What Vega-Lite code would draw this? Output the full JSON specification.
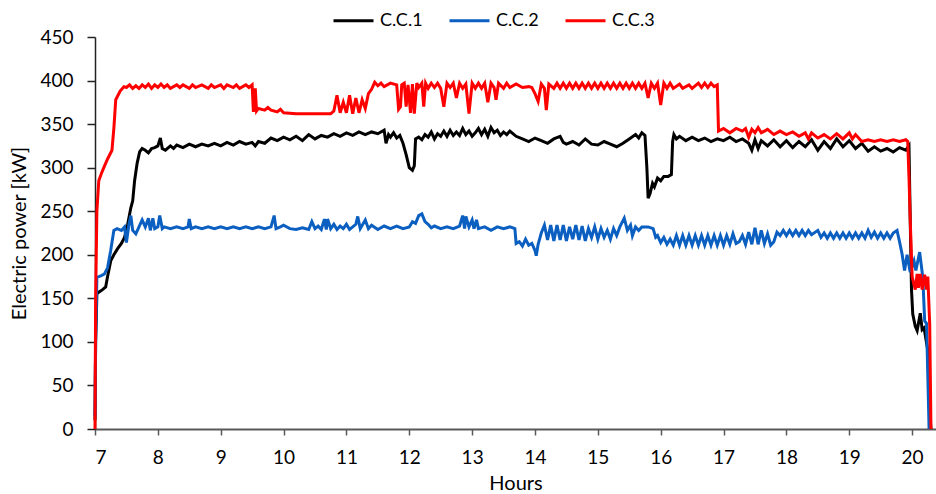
{
"$schema": "https://vega.github.io/schema/vega-lite/v6.json",
"width": 841,
"height": 392,
"autosize": {"type": "none"},
"padding": {"left": 95, "top": 37, "right": 0, "bottom": 65},
"config": {"view": {"stroke": null}, "font": "Lato"},
"datasets": {
"cc1": [
{"h":7.0,"v":10},{"h":7.01,"v":100},{"h":7.03,"v":155},{"h":7.06,"v":157},{"h":7.12,"v":160},{"h":7.17,"v":163},{"h":7.2,"v":175},{"h":7.25,"v":193},{"h":7.3,"v":200},{"h":7.36,"v":207},{"h":7.42,"v":213},{"h":7.47,"v":220},{"h":7.52,"v":235},{"h":7.57,"v":254},{"h":7.6,"v":262},{"h":7.63,"v":285},{"h":7.67,"v":305},{"h":7.71,"v":318},{"h":7.75,"v":322},{"h":7.8,"v":320},{"h":7.85,"v":317},{"h":7.9,"v":322},{"h":7.95,"v":323},{"h":8.0,"v":325},{"h":8.04,"v":334},{"h":8.07,"v":322},{"h":8.12,"v":320},{"h":8.2,"v":325},{"h":8.25,"v":322},{"h":8.3,"v":326},{"h":8.4,"v":323},{"h":8.5,"v":327},{"h":8.6,"v":324},{"h":8.7,"v":327},{"h":8.8,"v":325},{"h":8.9,"v":328},{"h":9.0,"v":325},{"h":9.1,"v":329},{"h":9.2,"v":326},{"h":9.3,"v":330},{"h":9.4,"v":327},{"h":9.5,"v":329},{"h":9.55,"v":325},{"h":9.6,"v":330},{"h":9.7,"v":328},{"h":9.8,"v":334},{"h":9.9,"v":331},{"h":10.0,"v":335},{"h":10.1,"v":332},{"h":10.2,"v":336},{"h":10.3,"v":331},{"h":10.4,"v":338},{"h":10.5,"v":333},{"h":10.6,"v":337},{"h":10.7,"v":335},{"h":10.8,"v":339},{"h":10.9,"v":336},{"h":11.0,"v":340},{"h":11.1,"v":337},{"h":11.2,"v":341},{"h":11.3,"v":338},{"h":11.4,"v":341},{"h":11.5,"v":339},{"h":11.6,"v":343},{"h":11.63,"v":328},{"h":11.67,"v":338},{"h":11.7,"v":335},{"h":11.75,"v":340},{"h":11.8,"v":334},{"h":11.85,"v":337},{"h":11.9,"v":328},{"h":11.95,"v":315},{"h":12.0,"v":300},{"h":12.05,"v":297},{"h":12.08,"v":302},{"h":12.1,"v":333},{"h":12.15,"v":335},{"h":12.2,"v":332},{"h":12.25,"v":338},{"h":12.3,"v":335},{"h":12.35,"v":341},{"h":12.4,"v":333},{"h":12.45,"v":339},{"h":12.5,"v":336},{"h":12.55,"v":342},{"h":12.6,"v":336},{"h":12.65,"v":343},{"h":12.7,"v":337},{"h":12.75,"v":341},{"h":12.8,"v":337},{"h":12.85,"v":345},{"h":12.9,"v":338},{"h":12.95,"v":342},{"h":13.0,"v":336},{"h":13.05,"v":340},{"h":13.1,"v":345},{"h":13.15,"v":338},{"h":13.2,"v":344},{"h":13.25,"v":336},{"h":13.3,"v":346},{"h":13.35,"v":340},{"h":13.4,"v":343},{"h":13.45,"v":337},{"h":13.5,"v":341},{"h":13.55,"v":338},{"h":13.6,"v":342},{"h":13.7,"v":336},{"h":13.8,"v":333},{"h":13.9,"v":330},{"h":14.0,"v":334},{"h":14.1,"v":331},{"h":14.2,"v":328},{"h":14.3,"v":333},{"h":14.4,"v":336},{"h":14.45,"v":329},{"h":14.5,"v":327},{"h":14.6,"v":330},{"h":14.7,"v":326},{"h":14.8,"v":333},{"h":14.9,"v":327},{"h":15.0,"v":326},{"h":15.1,"v":330},{"h":15.2,"v":327},{"h":15.3,"v":324},{"h":15.4,"v":328},{"h":15.5,"v":333},{"h":15.6,"v":338},{"h":15.65,"v":334},{"h":15.7,"v":340},{"h":15.75,"v":337},{"h":15.78,"v":300},{"h":15.8,"v":265},{"h":15.83,"v":270},{"h":15.87,"v":282},{"h":15.9,"v":278},{"h":15.95,"v":288},{"h":16.0,"v":285},{"h":16.05,"v":290},{"h":16.12,"v":290},{"h":16.17,"v":292},{"h":16.19,"v":330},{"h":16.21,"v":338},{"h":16.25,"v":333},{"h":16.3,"v":336},{"h":16.4,"v":331},{"h":16.5,"v":335},{"h":16.6,"v":331},{"h":16.7,"v":334},{"h":16.8,"v":330},{"h":16.9,"v":333},{"h":17.0,"v":331},{"h":17.1,"v":335},{"h":17.2,"v":330},{"h":17.3,"v":333},{"h":17.4,"v":328},{"h":17.45,"v":320},{"h":17.5,"v":332},{"h":17.55,"v":322},{"h":17.6,"v":331},{"h":17.7,"v":325},{"h":17.8,"v":332},{"h":17.9,"v":324},{"h":18.0,"v":331},{"h":18.1,"v":323},{"h":18.2,"v":330},{"h":18.3,"v":324},{"h":18.4,"v":332},{"h":18.5,"v":320},{"h":18.6,"v":330},{"h":18.7,"v":322},{"h":18.8,"v":333},{"h":18.9,"v":324},{"h":19.0,"v":331},{"h":19.1,"v":322},{"h":19.2,"v":328},{"h":19.3,"v":319},{"h":19.4,"v":324},{"h":19.5,"v":319},{"h":19.6,"v":322},{"h":19.7,"v":318},{"h":19.8,"v":323},{"h":19.9,"v":320},{"h":19.95,"v":325},{"h":19.97,"v":240},{"h":19.99,"v":160},{"h":20.01,"v":132},{"h":20.05,"v":118},{"h":20.08,"v":113},{"h":20.13,"v":133},{"h":20.16,"v":114},{"h":20.19,"v":116},{"h":20.25,"v":90},{"h":20.28,"v":20},{"h":20.3,"v":0}
],
"cc2": [
{"h":7.0,"v":15},{"h":7.01,"v":100},{"h":7.03,"v":174},{"h":7.1,"v":176},{"h":7.15,"v":178},{"h":7.2,"v":185},{"h":7.25,"v":205},{"h":7.3,"v":228},{"h":7.35,"v":230},{"h":7.42,"v":228},{"h":7.47,"v":232},{"h":7.5,"v":214},{"h":7.54,"v":235},{"h":7.57,"v":245},{"h":7.6,"v":228},{"h":7.65,"v":224},{"h":7.7,"v":232},{"h":7.75,"v":240},{"h":7.8,"v":232},{"h":7.85,"v":242},{"h":7.88,"v":228},{"h":7.92,"v":242},{"h":7.95,"v":230},{"h":8.0,"v":232},{"h":8.03,"v":245},{"h":8.07,"v":230},{"h":8.1,"v":232},{"h":8.2,"v":230},{"h":8.3,"v":232},{"h":8.4,"v":230},{"h":8.48,"v":232},{"h":8.5,"v":241},{"h":8.53,"v":230},{"h":8.6,"v":232},{"h":8.7,"v":230},{"h":8.8,"v":232},{"h":8.9,"v":230},{"h":9.0,"v":232},{"h":9.1,"v":230},{"h":9.2,"v":232},{"h":9.3,"v":230},{"h":9.4,"v":232},{"h":9.5,"v":230},{"h":9.6,"v":232},{"h":9.7,"v":230},{"h":9.8,"v":232},{"h":9.85,"v":245},{"h":9.88,"v":230},{"h":9.95,"v":232},{"h":10.0,"v":234},{"h":10.1,"v":230},{"h":10.2,"v":229},{"h":10.3,"v":231},{"h":10.4,"v":229},{"h":10.45,"v":238},{"h":10.5,"v":230},{"h":10.55,"v":233},{"h":10.6,"v":229},{"h":10.65,"v":241},{"h":10.68,"v":229},{"h":10.7,"v":241},{"h":10.75,"v":230},{"h":10.8,"v":235},{"h":10.85,"v":229},{"h":10.9,"v":233},{"h":10.95,"v":230},{"h":11.0,"v":235},{"h":11.05,"v":229},{"h":11.15,"v":235},{"h":11.18,"v":244},{"h":11.22,"v":230},{"h":11.3,"v":240},{"h":11.35,"v":230},{"h":11.4,"v":234},{"h":11.5,"v":229},{"h":11.6,"v":233},{"h":11.7,"v":230},{"h":11.8,"v":233},{"h":11.9,"v":230},{"h":12.0,"v":232},{"h":12.05,"v":238},{"h":12.1,"v":236},{"h":12.15,"v":245},{"h":12.2,"v":247},{"h":12.25,"v":238},{"h":12.3,"v":235},{"h":12.35,"v":231},{"h":12.4,"v":233},{"h":12.5,"v":230},{"h":12.6,"v":232},{"h":12.7,"v":230},{"h":12.8,"v":233},{"h":12.85,"v":245},{"h":12.88,"v":230},{"h":12.9,"v":244},{"h":12.95,"v":232},{"h":13.0,"v":240},{"h":13.03,"v":230},{"h":13.07,"v":240},{"h":13.1,"v":230},{"h":13.2,"v":232},{"h":13.3,"v":228},{"h":13.4,"v":232},{"h":13.5,"v":230},{"h":13.6,"v":232},{"h":13.68,"v":230},{"h":13.7,"v":213},{"h":13.75,"v":215},{"h":13.8,"v":210},{"h":13.85,"v":218},{"h":13.9,"v":211},{"h":13.95,"v":213},{"h":14.0,"v":205},{"h":14.02,"v":199},{"h":14.05,"v":212},{"h":14.1,"v":225},{"h":14.15,"v":234},{"h":14.2,"v":217},{"h":14.25,"v":234},{"h":14.3,"v":216},{"h":14.35,"v":234},{"h":14.4,"v":217},{"h":14.45,"v":234},{"h":14.5,"v":216},{"h":14.55,"v":232},{"h":14.6,"v":218},{"h":14.65,"v":234},{"h":14.7,"v":217},{"h":14.75,"v":233},{"h":14.8,"v":216},{"h":14.85,"v":230},{"h":14.9,"v":220},{"h":14.95,"v":232},{"h":15.0,"v":218},{"h":15.05,"v":230},{"h":15.1,"v":220},{"h":15.15,"v":228},{"h":15.2,"v":218},{"h":15.25,"v":230},{"h":15.3,"v":222},{"h":15.35,"v":232},{"h":15.42,"v":242},{"h":15.47,"v":228},{"h":15.52,"v":234},{"h":15.55,"v":222},{"h":15.6,"v":232},{"h":15.65,"v":228},{"h":15.7,"v":232},{"h":15.8,"v":232},{"h":15.88,"v":230},{"h":15.92,"v":220},{"h":15.95,"v":222},{"h":16.0,"v":214},{"h":16.05,"v":220},{"h":16.1,"v":212},{"h":16.15,"v":218},{"h":16.2,"v":211},{"h":16.25,"v":222},{"h":16.3,"v":211},{"h":16.35,"v":222},{"h":16.4,"v":211},{"h":16.45,"v":222},{"h":16.5,"v":211},{"h":16.55,"v":222},{"h":16.6,"v":211},{"h":16.65,"v":222},{"h":16.7,"v":211},{"h":16.75,"v":222},{"h":16.8,"v":211},{"h":16.85,"v":222},{"h":16.9,"v":211},{"h":16.95,"v":222},{"h":17.0,"v":211},{"h":17.05,"v":222},{"h":17.1,"v":212},{"h":17.15,"v":224},{"h":17.2,"v":213},{"h":17.25,"v":215},{"h":17.3,"v":222},{"h":17.35,"v":212},{"h":17.4,"v":226},{"h":17.45,"v":212},{"h":17.5,"v":231},{"h":17.55,"v":212},{"h":17.6,"v":228},{"h":17.65,"v":213},{"h":17.7,"v":224},{"h":17.75,"v":211},{"h":17.8,"v":215},{"h":17.85,"v":226},{"h":17.9,"v":222},{"h":17.95,"v":228},{"h":18.0,"v":222},{"h":18.05,"v":228},{"h":18.1,"v":222},{"h":18.15,"v":228},{"h":18.2,"v":222},{"h":18.25,"v":228},{"h":18.3,"v":222},{"h":18.35,"v":228},{"h":18.4,"v":223},{"h":18.5,"v":228},{"h":18.55,"v":220},{"h":18.6,"v":225},{"h":18.65,"v":219},{"h":18.7,"v":225},{"h":18.75,"v":219},{"h":18.8,"v":225},{"h":18.85,"v":219},{"h":18.9,"v":225},{"h":18.95,"v":219},{"h":19.0,"v":225},{"h":19.05,"v":219},{"h":19.1,"v":225},{"h":19.15,"v":219},{"h":19.2,"v":225},{"h":19.25,"v":219},{"h":19.3,"v":228},{"h":19.35,"v":220},{"h":19.4,"v":226},{"h":19.45,"v":219},{"h":19.5,"v":225},{"h":19.55,"v":219},{"h":19.6,"v":225},{"h":19.65,"v":219},{"h":19.7,"v":225},{"h":19.76,"v":228},{"h":19.8,"v":215},{"h":19.84,"v":201},{"h":19.88,"v":182},{"h":19.92,"v":200},{"h":19.97,"v":180},{"h":20.03,"v":193},{"h":20.06,"v":182},{"h":20.12,"v":203},{"h":20.17,"v":174},{"h":20.2,"v":124},{"h":20.23,"v":121},{"h":20.25,"v":60},{"h":20.27,"v":0}
],
"cc3": [
{"h":7.0,"v":0},{"h":7.01,"v":150},{"h":7.03,"v":250},{"h":7.06,"v":285},{"h":7.1,"v":293},{"h":7.14,"v":300},{"h":7.2,"v":310},{"h":7.27,"v":320},{"h":7.3,"v":345},{"h":7.33,"v":378},{"h":7.4,"v":388},{"h":7.46,"v":393},{"h":7.5,"v":392},{"h":7.55,"v":395},{"h":7.6,"v":391},{"h":7.65,"v":394},{"h":7.7,"v":391},{"h":7.75,"v":395},{"h":7.8,"v":392},{"h":7.85,"v":396},{"h":7.9,"v":391},{"h":7.95,"v":395},{"h":8.0,"v":392},{"h":8.05,"v":396},{"h":8.1,"v":392},{"h":8.15,"v":395},{"h":8.2,"v":391},{"h":8.3,"v":395},{"h":8.35,"v":392},{"h":8.4,"v":395},{"h":8.5,"v":391},{"h":8.55,"v":395},{"h":8.6,"v":392},{"h":8.7,"v":395},{"h":8.8,"v":391},{"h":8.85,"v":395},{"h":8.9,"v":392},{"h":9.0,"v":395},{"h":9.05,"v":391},{"h":9.1,"v":395},{"h":9.2,"v":392},{"h":9.25,"v":395},{"h":9.3,"v":391},{"h":9.4,"v":395},{"h":9.45,"v":392},{"h":9.5,"v":395},{"h":9.52,"v":364},{"h":9.55,"v":391},{"h":9.57,"v":365},{"h":9.6,"v":368},{"h":9.7,"v":366},{"h":9.75,"v":369},{"h":9.8,"v":366},{"h":9.9,"v":364},{"h":9.95,"v":367},{"h":10.0,"v":363},{"h":10.2,"v":362},{"h":10.4,"v":362},{"h":10.6,"v":362},{"h":10.75,"v":362},{"h":10.8,"v":365},{"h":10.85,"v":383},{"h":10.9,"v":363},{"h":10.95,"v":375},{"h":11.0,"v":363},{"h":11.05,"v":383},{"h":11.1,"v":362},{"h":11.15,"v":380},{"h":11.2,"v":363},{"h":11.25,"v":378},{"h":11.3,"v":368},{"h":11.35,"v":385},{"h":11.4,"v":390},{"h":11.45,"v":398},{"h":11.5,"v":394},{"h":11.55,"v":397},{"h":11.6,"v":393},{"h":11.7,"v":397},{"h":11.8,"v":395},{"h":11.83,"v":367},{"h":11.86,"v":370},{"h":11.88,"v":395},{"h":11.92,"v":397},{"h":11.95,"v":370},{"h":11.98,"v":395},{"h":12.02,"v":363},{"h":12.05,"v":396},{"h":12.08,"v":362},{"h":12.12,"v":397},{"h":12.15,"v":392},{"h":12.2,"v":397},{"h":12.23,"v":370},{"h":12.26,"v":397},{"h":12.3,"v":391},{"h":12.35,"v":397},{"h":12.4,"v":392},{"h":12.45,"v":397},{"h":12.5,"v":391},{"h":12.55,"v":370},{"h":12.6,"v":397},{"h":12.65,"v":392},{"h":12.7,"v":397},{"h":12.75,"v":380},{"h":12.8,"v":397},{"h":12.85,"v":391},{"h":12.9,"v":396},{"h":12.95,"v":362},{"h":13.0,"v":397},{"h":13.05,"v":391},{"h":13.1,"v":397},{"h":13.15,"v":391},{"h":13.2,"v":397},{"h":13.25,"v":375},{"h":13.3,"v":397},{"h":13.35,"v":392},{"h":13.38,"v":378},{"h":13.42,"v":397},{"h":13.5,"v":391},{"h":13.55,"v":397},{"h":13.6,"v":392},{"h":13.7,"v":396},{"h":13.8,"v":392},{"h":13.9,"v":393},{"h":13.95,"v":392},{"h":14.0,"v":385},{"h":14.05,"v":376},{"h":14.1,"v":396},{"h":14.15,"v":391},{"h":14.18,"v":366},{"h":14.22,"v":396},{"h":14.3,"v":391},{"h":14.35,"v":397},{"h":14.4,"v":391},{"h":14.45,"v":397},{"h":14.5,"v":391},{"h":14.55,"v":397},{"h":14.6,"v":391},{"h":14.65,"v":397},{"h":14.7,"v":391},{"h":14.75,"v":397},{"h":14.8,"v":391},{"h":14.85,"v":397},{"h":14.9,"v":391},{"h":14.95,"v":397},{"h":15.0,"v":391},{"h":15.05,"v":397},{"h":15.1,"v":391},{"h":15.15,"v":397},{"h":15.2,"v":391},{"h":15.25,"v":397},{"h":15.3,"v":391},{"h":15.35,"v":397},{"h":15.4,"v":391},{"h":15.45,"v":397},{"h":15.5,"v":391},{"h":15.55,"v":397},{"h":15.6,"v":391},{"h":15.65,"v":397},{"h":15.7,"v":391},{"h":15.75,"v":397},{"h":15.8,"v":380},{"h":15.85,"v":397},{"h":15.9,"v":391},{"h":15.95,"v":397},{"h":16.0,"v":372},{"h":16.05,"v":397},{"h":16.1,"v":391},{"h":16.15,"v":397},{"h":16.2,"v":391},{"h":16.3,"v":396},{"h":16.35,"v":391},{"h":16.45,"v":395},{"h":16.5,"v":391},{"h":16.6,"v":397},{"h":16.65,"v":392},{"h":16.7,"v":397},{"h":16.75,"v":392},{"h":16.8,"v":397},{"h":16.85,"v":393},{"h":16.9,"v":395},{"h":16.92,"v":342},{"h":17.0,"v":345},{"h":17.1,"v":340},{"h":17.2,"v":345},{"h":17.3,"v":342},{"h":17.35,"v":345},{"h":17.4,"v":335},{"h":17.45,"v":344},{"h":17.5,"v":340},{"h":17.55,"v":346},{"h":17.6,"v":340},{"h":17.7,"v":344},{"h":17.8,"v":338},{"h":17.9,"v":342},{"h":18.0,"v":338},{"h":18.1,"v":341},{"h":18.2,"v":336},{"h":18.3,"v":340},{"h":18.35,"v":333},{"h":18.4,"v":340},{"h":18.5,"v":334},{"h":18.6,"v":338},{"h":18.7,"v":333},{"h":18.8,"v":339},{"h":18.9,"v":333},{"h":19.0,"v":340},{"h":19.05,"v":333},{"h":19.1,"v":338},{"h":19.2,"v":330},{"h":19.3,"v":332},{"h":19.4,"v":330},{"h":19.5,"v":332},{"h":19.6,"v":330},{"h":19.7,"v":332},{"h":19.8,"v":330},{"h":19.9,"v":332},{"h":19.93,"v":330},{"h":19.95,"v":290},{"h":19.97,"v":240},{"h":20.0,"v":175},{"h":20.05,"v":160},{"h":20.08,"v":178},{"h":20.1,"v":162},{"h":20.13,"v":178},{"h":20.16,"v":160},{"h":20.2,"v":177},{"h":20.23,"v":160},{"h":20.25,"v":175},{"h":20.28,"v":120},{"h":20.3,"v":0}
]
},
"layer": [
{
"mark": {"type": "rule", "color": "#404040", "strokeWidth": 1.5},
"encoding": {"y": {"datum": 450, "type": "quantitative", "scale": {"domain": [0, 450]}}}
},
{
"data": {"name": "cc1"},
"mark": {"type": "line", "strokeWidth": 3},
"encoding": {
"x": {"field": "h", "type": "quantitative"},
"y": {"field": "v", "type": "quantitative"},
"color": {"datum": "C.C.1", "type": "nominal"}
}
},
{
"data": {"name": "cc2"},
"mark": {"type": "line", "strokeWidth": 3},
"encoding": {
"x": {"field": "h", "type": "quantitative"},
"y": {"field": "v", "type": "quantitative"},
"color": {"datum": "C.C.2", "type": "nominal"}
}
},
{
"data": {"name": "cc3"},
"mark": {"type": "line", "strokeWidth": 3},
"encoding": {
"x": {"field": "h", "type": "quantitative", "scale": {"domain": [7, 20.38], "nice": false, "zero": false},
"axis": {"title": "Hours", "format": "d", "values": [7,8,9,10,11,12,13,14,15,16,17,18,19,20], "grid": false, "domainColor": "#595959", "domainWidth": 2, "tickColor": "#595959", "tickWidth": 1.5, "tickSize": 6, "labelFontSize": 19, "labelColor": "#000", "labelPadding": 13, "titleFontSize": 20, "titleFontWeight": "normal", "titleColor": "#000", "titlePadding": 6}},
"y": {"field": "v", "type": "quantitative", "scale": {"domain": [0, 450], "nice": false},
"axis": {"title": "Electric power [kW]", "values": [0,50,100,150,200,250,300,350,400,450], "grid": false, "domainColor": "#222", "domainWidth": 1.5, "tickColor": "#222", "tickWidth": 1.5, "tickSize": 8, "labelFontSize": 19, "labelColor": "#000", "labelPadding": 14, "titleFontSize": 20, "titleFontWeight": "normal", "titleColor": "#000", "titlePadding": 10}},
"color": {"datum": "C.C.3", "type": "nominal",
"scale": {"domain": ["C.C.1", "C.C.2", "C.C.3"], "range": ["#000000", "#0a5fc0", "#ff0000"]},
"legend": {"title": null, "orient": "none", "legendX": 237, "legendY": -38, "direction": "horizontal", "symbolType": "stroke", "symbolSize": 1600, "symbolStrokeWidth": 3, "labelFontSize": 18, "labelColor": "#000", "labelOffset": 5, "columnPadding": 20}}
}
}
]
}
